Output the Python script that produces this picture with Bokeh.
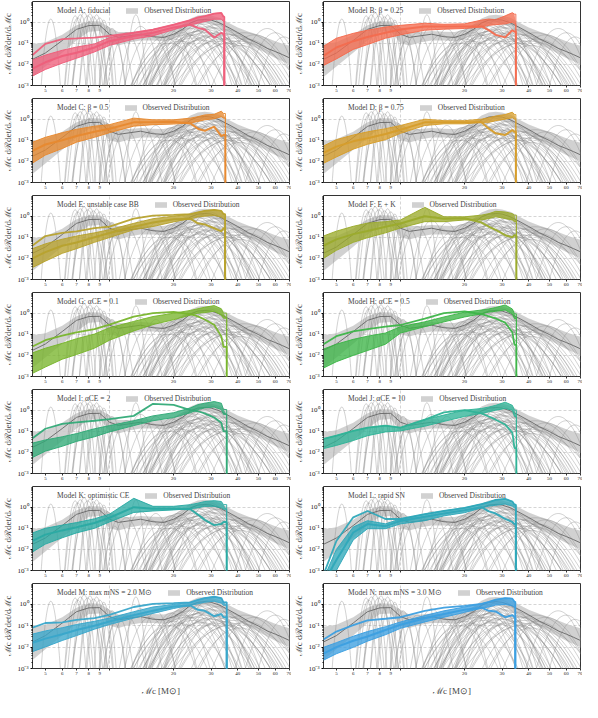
import numpy as np
from bokeh.plotting import figure
from bokeh.layouts import gridplot
from bokeh.models import FixedTicker, Label, Range1d
from bokeh.embed import file_html
from bokeh.resources import INLINE

# ---------------- data (log10 of M_c dR/dM_c) ----------------
X_RANGE = (4.35, 70.0)
Y_RANGE = (1e-3, 10 ** 0.98)

# observed distribution (shared)
obs_m = [4.35, 5, 6, 7, 8, 9, 10, 11, 12.5, 14, 16, 18, 20, 22, 24, 26, 28, 30, 33, 36, 40, 45, 50, 55, 60, 65, 70]
obs_med = [-1.76, -1.46, -0.87, -0.34, -0.16, -0.15, -0.57, -0.72, -0.64, -0.57, -0.69, -0.72, -0.57, -0.34, -0.04,
           0.1, 0.13, 0.1, -0.04, -0.24, -0.49, -0.79, -1.01, -1.24, -1.39, -1.54, -1.69]
obs_hi = [-1.05, -0.95, -0.6, -0.15, 0.05, 0.03, -0.25, -0.47, -0.47, -0.42, -0.45, -0.47, -0.35, -0.12, 0.17,
          0.32, 0.35, 0.32, 0.2, -0.02, -0.25, -0.45, -0.6, -0.75, -0.9, -1.02, -1.12]
obs_lo = [-2.6, -2.1, -1.45, -0.87, -0.45, -0.42, -1.0, -1.1, -0.95, -0.87, -0.87, -0.9, -0.8, -0.57, -0.27,
          -0.1, -0.05, -0.1, -0.25, -0.48, -0.72, -1.05, -1.28, -1.5, -1.7, -1.85, -2.0]

# individual event posteriors: centre, peak (log10), half width at 1e-3 (dex)
ev_mc = [5.3, 6.9, 7.3, 7.6, 7.9, 8.1, 8.4, 8.7, 9.0, 9.4, 9.8, 10.3, 12.0, 13.3, 14.0, 15.5, 16.5, 18.0, 19.5,
         21.0, 22.0, 23.0, 24.0, 25.0, 25.5, 26.0, 26.5, 27.0, 27.5, 28.0, 28.5, 29.0, 29.5, 30.0, 31.0, 32.0,
         33.0, 34.0, 35.0, 37.0, 40.0, 43.0, 48.0, 55.0, 60.0, 66.0,
         19.0, 20.0, 21.5, 23.0, 24.5, 26.0, 27.0, 28.0, 29.0, 30.5, 32.0, 34.0, 36.0, 38.0, 41.0, 44.0,
         11.0, 10.6, 8.0, 7.1]
ev_peak = [0.15, 0.3, 0.35, 0.45, 0.3, 0.4, 0.25, 0.35, 0.2, 0.1, -0.2, -0.3, -0.5, 0.35, -0.2, -0.6, -0.3, -0.7,
           -0.4, -0.3, -0.5, -0.1, -0.3, 0.0, -0.6, -0.2, 0.1, -0.4, -0.1, 0.05, -0.5, -0.2, 0.2, -0.7, -0.3,
           -0.1, -0.5, -0.8, -0.35, -0.6, -0.9, -0.5, -0.6, -0.3, -0.5, -0.7,
           -1.0, -0.8, -0.9, -0.6, -0.75, -0.45, -0.85, -0.35, -0.65, -0.25, -0.9, -0.55, -1.0, -0.75, -1.1, -0.8,
           -0.6, -0.9, 0.0, 0.2]
ev_width = [0.045, 0.05, 0.06, 0.055, 0.07, 0.05, 0.065, 0.05, 0.06, 0.045, 0.04, 0.06, 0.09, 0.05, 0.1, 0.12,
            0.09, 0.15, 0.12, 0.15, 0.2, 0.18, 0.22, 0.2, 0.25, 0.16, 0.2, 0.25, 0.18, 0.22, 0.3, 0.2, 0.17,
            0.28, 0.24, 0.2, 0.3, 0.26, 0.22, 0.28, 0.3, 0.25, 0.2, 0.15, 0.14, 0.12,
            0.18, 0.2, 0.22, 0.25, 0.2, 0.28, 0.24, 0.26, 0.22, 0.3, 0.25, 0.27, 0.22, 0.25, 0.2, 0.22,
            0.07, 0.05, 0.08, 0.06]

# model bundles at these chirp masses
knots = [4.35, 5, 6, 7, 8.5, 10, 13, 16, 20, 24, 26, 28, 31, 33.5, 34.3]

hi_A = [-1.79, -1.56, -1.33, -1.18, -1.03, -0.73, -0.5, -0.35, -0.12, 0.1, 0.23, 0.29, 0.41, 0.44, 0.26]
lo_A = [-2.55, -2.24, -1.94, -1.71, -1.41, -1.1, -0.8, -0.65, -0.35, -0.12, -0.05, 0.03, 0.14, 0.14, 0.03]
up_A = [-1.56, -1.03, -0.8, -0.77, -0.73, -0.65, -0.5, -0.35, -0.12, 0.1, 0.23, 0.29, 0.41, 0.44, 0.26]
dip_A = [-2.2, -1.9, -1.6, -1.45, -1.2, -0.9, -0.65, -0.5, -0.25, -0.12, -0.27, -0.35, -0.73, -0.5, -0.58]

hi_B = [-1.14, -0.76, -0.53, -0.38, -0.23, -0.15, -0.05, -0.1, -0.08, 0.1, 0.15, 0.12, 0.3, 0.45, 0.38]
lo_B = [-2.05, -1.74, -1.29, -1.06, -0.76, -0.6, -0.38, -0.33, -0.3, -0.23, -0.15, -0.12, -0.08, 0.0, -0.08]
dip_B = [-1.6, -1.2, -0.9, -0.7, -0.5, -0.35, -0.2, -0.2, -0.2, -0.2, -0.38, -0.6, -0.72, -0.38, -0.45]

hi_C = [-1.09, -0.86, -0.64, -0.48, -0.33, -0.26, 0.05, -0.03, -0.03, 0.05, 0.12, 0.2, 0.23, 0.38, 0.27]
lo_C = [-2.08, -1.7, -1.39, -1.09, -0.86, -0.64, -0.33, -0.26, -0.23, -0.18, -0.11, -0.03, 0.02, 0.12, 0.05]
dip_C = [-1.5, -1.2, -1.0, -0.8, -0.6, -0.45, -0.15, -0.15, -0.12, -0.2, -0.45, -0.55, -0.35, -0.8, -0.75]

hi_D = [-1.27, -0.97, -0.75, -0.6, -0.45, -0.3, 0.0, -0.07, -0.07, 0.0, 0.07, 0.15, 0.22, 0.33, 0.22]
lo_D = [-2.09, -1.79, -1.42, -1.19, -0.97, -0.67, -0.3, -0.22, -0.22, -0.15, -0.15, -0.07, 0.0, 0.07, 0.0]
dip_D = [-1.6, -1.3, -1.05, -0.9, -0.7, -0.5, -0.15, -0.15, -0.15, -0.15, -0.45, -0.67, -0.75, -0.52, -0.6]

hi_E = [-1.54, -1.31, -1.09, -0.94, -0.79, -0.64, -0.34, -0.12, 0.0, 0.1, 0.18, 0.25, 0.3, 0.25, 0.1]
lo_E = [-2.43, -2.13, -1.76, -1.54, -1.24, -1.01, -0.64, -0.49, -0.27, -0.12, -0.04, 0.0, 0.03, -0.04, -0.12]
up_E = [-1.39, -0.94, -0.79, -0.72, -0.57, -0.49, -0.12, 0.03, 0.06, 0.1, 0.18, 0.25, 0.3, 0.25, 0.1]
dip_E = [-2.0, -1.7, -1.4, -1.25, -1.0, -0.8, -0.5, -0.3, -0.15, -0.12, -0.34, -0.39, -0.57, -0.72, -0.57]

hi_F = [-0.94, -0.71, -0.48, -0.33, -0.26, -0.18, 0.42, -0.03, -0.03, 0.05, 0.12, 0.23, 0.2, 0.12, 0.05]
lo_F = [-2.0, -1.62, -1.24, -1.02, -0.79, -0.56, -0.26, -0.26, -0.18, -0.18, -0.11, -0.03, -0.11, -0.18, -0.26]
dip_F = [-1.4, -1.1, -0.85, -0.7, -0.5, -0.35, 0.0, -0.12, -0.1, -0.3, -0.5, -0.65, -0.9, -1.0, -0.9]

hi_G = [-1.88, -1.66, -1.43, -1.21, -0.99, -0.69, -0.39, -0.16, 0.0, 0.13, 0.21, 0.28, 0.36, 0.21, 0.0]
lo_G = [-2.85, -2.55, -2.18, -1.96, -1.66, -1.28, -0.84, -0.54, -0.31, -0.09, 0.0, 0.03, 0.09, -0.09, -0.24]
up_G = [-1.58, -1.28, -1.06, -0.91, -0.76, -0.54, -0.16, 0.0, 0.06, -0.05, -0.15, -0.3, -0.55, -1.1, -1.6]

hi_H = [-1.7, -1.47, -1.24, -1.09, -0.94, -0.64, -0.41, -0.18, 0.05, 0.15, 0.2, 0.27, 0.39, 0.2, -0.03]
lo_H = [-2.6, -2.3, -2.0, -1.77, -1.47, -0.94, -0.64, -0.41, -0.18, -0.03, 0.05, 0.09, 0.15, -0.03, -0.26]
up_H = [-1.47, -1.09, -0.86, -0.76, -0.64, -0.56, -0.26, 0.0, 0.09, -0.05, -0.15, -0.25, -0.45, -0.9, -1.5]

hi_I = [-1.56, -1.41, -1.26, -1.11, -0.88, -0.73, -0.5, -0.27, -0.12, 0.11, 0.26, 0.33, 0.41, 0.33, 0.03]
lo_I = [-2.24, -1.94, -1.71, -1.48, -1.26, -1.03, -0.73, -0.5, -0.35, -0.12, 0.03, 0.11, 0.15, 0.03, -0.2]
up_I = [-1.33, -0.88, -0.65, -0.58, -0.5, -0.42, -0.27, 0.3, 0.25, 0.0, -0.05, -0.15, -0.35, -0.6, -1.0]

hi_J = [-1.36, -1.21, -0.98, -0.83, -0.73, -0.83, -0.45, -0.23, 0.0, 0.08, 0.15, 0.23, 0.38, 0.23, 0.0]
lo_J = [-1.82, -1.67, -1.44, -1.21, -1.03, -0.98, -0.76, -0.53, -0.3, -0.15, -0.08, 0.0, 0.08, 0.0, -0.3]
up_J = [-1.36, -1.21, -0.98, -0.83, -0.73, -0.83, -0.45, -0.1, 0.0, -0.15, -0.3, -0.45, -0.68, -1.06, -1.8]

hi_K = [-1.22, -1.0, -0.85, -0.73, -0.55, -0.33, 0.42, 0.04, 0.04, 0.12, 0.19, 0.27, 0.31, 0.27, 0.12]
lo_K = [-2.12, -1.75, -1.45, -1.22, -1.0, -0.7, -0.25, -0.18, -0.13, -0.07, -0.03, 0.04, 0.04, -0.03, -0.1]
dip_K = [-1.6, -1.3, -1.1, -0.95, -0.75, -0.5, 0.0, -0.07, -0.07, -0.1, -0.35, -0.6, -0.85, -0.8, -0.7]

hi_L = [-3.4, -2.0, -0.94, -0.64, -0.79, -0.56, -0.33, -0.18, -0.03, 0.15, 0.24, 0.35, 0.39, 0.27, 0.12]
lo_L = [-4.0, -3.0, -1.55, -1.02, -1.02, -0.79, -0.64, -0.41, -0.26, -0.03, 0.05, 0.09, 0.15, 0.05, -0.03]
up_L = [-3.2, -1.6, -0.48, -0.18, -0.56, -0.56, -0.33, -0.18, -0.03, 0.15, 0.24, 0.35, 0.39, 0.27, 0.12]
dip_L = [-3.6, -2.5, -1.2, -0.8, -0.9, -0.65, -0.45, -0.3, -0.15, 0.0, -0.2, -0.3, -0.55, -0.7, -0.8]

hi_M = [-1.39, -1.24, -1.09, -0.94, -0.79, -0.64, -0.34, -0.12, 0.0, 0.1, 0.21, 0.3, 0.36, 0.3, 0.1]
lo_M = [-2.21, -1.99, -1.69, -1.46, -1.16, -0.94, -0.64, -0.42, -0.19, -0.04, 0.03, 0.1, 0.15, 0.06, -0.04]
up_M = [-1.09, -0.87, -0.84, -0.72, -0.64, -0.49, -0.12, 0.03, 0.06, 0.1, 0.21, 0.3, 0.36, 0.3, 0.1]
dip_M = [-1.8, -1.6, -1.4, -1.2, -1.0, -0.8, -0.5, -0.3, -0.1, -0.05, -0.25, -0.3, -0.55, -0.45, -0.6]

hi_N = [-2.01, -1.79, -1.49, -1.27, -1.04, -0.82, -0.52, -0.3, -0.12, 0.03, 0.12, 0.22, 0.3, 0.27, 0.12]
lo_N = [-2.61, -2.31, -2.01, -1.72, -1.42, -1.12, -0.82, -0.6, -0.37, -0.18, -0.12, -0.03, 0.0, -0.07, -0.15]
up_N = [-1.64, -1.27, -0.97, -0.75, -0.67, -0.6, -0.3, -0.15, -0.07, 0.03, 0.12, 0.22, 0.3, 0.27, 0.12]
dip_N = [-2.3, -2.0, -1.7, -1.5, -1.2, -0.95, -0.65, -0.45, -0.25, -0.15, -0.3, -0.33, -0.6, -0.5, -0.6]

model_labels = ["Model A: fiducial", "Model B: β = 0.25", "Model C: β = 0.5", "Model D: β = 0.75",
                "Model E: unstable case BB", "Model F: E + K", "Model G: αCE = 0.1", "Model H: αCE = 0.5",
                "Model I: αCE = 2", "Model J: αCE = 10", "Model K: optimistic CE", "Model L: rapid SN",
                "Model M: max mNS = 2.0 M⊙", "Model N: max mNS = 3.0 M⊙"]
model_colors = ["#ee5f7b", "#f36c4f", "#e7892f", "#d69d2b", "#b7a22e", "#9bab2c", "#78b52c", "#3db548",
                "#31aa77", "#2fb397", "#2aaaa3", "#2fa8b9", "#39a6ca", "#3c9fe0"]
model_end = [34.6, 34.8, 35.0, 34.8, 34.9, 35.0, 35.5, 35.0, 35.5, 35.0, 35.5, 34.8, 35.5, 34.6]
model_hi = [hi_A, hi_B, hi_C, hi_D, hi_E, hi_F, hi_G, hi_H, hi_I, hi_J, hi_K, hi_L, hi_M, hi_N]
model_lo = [lo_A, lo_B, lo_C, lo_D, lo_E, lo_F, lo_G, lo_H, lo_I, lo_J, lo_K, lo_L, lo_M, lo_N]
model_up = [up_A, None, None, None, up_E, None, up_G, up_H, up_I, up_J, None, up_L, up_M, up_N]
model_dip = [dip_A, dip_B, dip_C, dip_D, dip_E, dip_F, None, None, None, None, dip_K, dip_L, dip_M, dip_N]

SERIF = "Liberation Serif"


def pw(v):
    return [10.0 ** a for a in v]


def event_curves():
    xs, ys = [], []
    for c, pk, w in zip(ev_mc, ev_peak, ev_width):
        lm = np.linspace(np.log10(c) - 1.08 * w, np.log10(c) + 1.08 * w, 60)
        ly = pk - (pk + 3.0) * ((lm - np.log10(c)) / w) ** 2
        xs.append(list(10 ** lm))
        ys.append(list(10 ** ly))
    return xs, ys


EV_XS, EV_YS = event_curves()


def make_panel(i, last):
    color = model_colors[i]
    end = model_end[i]
    h = 118 if last else 97
    p = figure(width=291, height=h, x_axis_type="log", y_axis_type="log",
               x_range=Range1d(*X_RANGE), y_range=Range1d(*Y_RANGE),
               output_backend="svg", toolbar_location=None,
               min_border_left=29, min_border_right=2, min_border_top=1,
               min_border_bottom=32 if last else 12)
    p.outline_line_color = "#333333"
    p.outline_line_width = 1
    p.background_fill_color = "white"

    # grid
    p.xgrid.ticker = FixedTicker(ticks=[10])
    p.ygrid.ticker = FixedTicker(ticks=[1e-2, 1e-1, 1])
    for g in (p.xgrid, p.ygrid):
        g.grid_line_color = "#b8b8b8"
        g.grid_line_dash = "3 2"
        g.grid_line_width = 0.6

    # observed distribution
    p.varea(x=obs_m, y1=pw(obs_lo), y2=pw(obs_hi), fill_color="#cccccc", fill_alpha=0.9,
            legend_label="Observed Distribution")
    p.multi_line(EV_XS, EV_YS, line_color="#8a8a8a", line_alpha=0.65, line_width=0.6)
    p.line(obs_m, pw(obs_med), line_color="#666666", line_width=0.9)

    # model bundle
    hi, lo = model_hi[i], model_lo[i]
    px = knots + [end] + knots[::-1]
    py = pw(hi) + [10 ** lo[-1]] + pw(lo[::-1])
    p.patch(px, py, fill_color=color, fill_alpha=0.78, line_alpha=0)
    lx = knots + [end, end]
    for arr, wdt in ((hi, 1.0), (lo, 1.0), (model_up[i], 1.8), (model_dip[i], 2.0)):
        if arr is None:
            continue
        p.line(lx, pw(arr) + [10 ** arr[-1], 1e-4], line_color=color, line_width=wdt, line_alpha=0.95)
    p.line(x=[], y=[], line_color=color, line_width=2.5, legend_label=model_labels[i])

    # legend: model first
    items = p.legend.items
    p.legend.items = [items[1], items[0]]
    p.legend.location = "top_left"
    p.legend.orientation = "horizontal"
    p.legend.label_text_font = SERIF
    p.legend.label_text_font_size = "7.5px"
    p.legend.label_height = 7
    p.legend.glyph_height = 7
    p.legend.glyph_width = 15
    p.legend.label_standoff = 5
    p.legend.spacing = 14
    p.legend.padding = 2
    p.legend.margin = 3
    p.legend.background_fill_alpha = 0
    p.legend.border_line_alpha = 0

    # axes
    xa = p.xaxis[0]
    xa.ticker = FixedTicker(ticks=[5, 6, 7, 8, 9, 10, 20, 30, 40, 50, 60, 70])
    xa.major_label_overrides = {10: ""}
    xa.major_label_text_font = SERIF
    xa.major_label_text_font_size = "5px"
    xa.major_label_standoff = 1
    xa.major_tick_out = 2
    xa.major_tick_in = 0
    xa.minor_tick_out = 0
    xa.axis_line_color = None
    xa.major_tick_line_color = "#333333"
    xa.major_label_text_color = "#222222"
    p.add_layout(Label(x=10, y=10 ** -3.3, text="10", text_font=SERIF, text_font_size="7px",
                       text_align="center", text_baseline="middle", text_color="#222222"))
    if last:
        xa.axis_label = "ℳc [M⊙]"
        xa.axis_label_text_font = SERIF
        xa.axis_label_text_font_style = "normal"
        xa.axis_label_text_font_size = "9px"
        xa.axis_label_standoff = 8

    ya = p.yaxis[0]
    ya.ticker = FixedTicker(ticks=[1e-3, 1e-2, 1e-1, 1],
                            minor_ticks=[k * 10.0 ** e for e in (-3, -2, -1, 0) for k in range(2, 10)])
    ya.major_label_overrides = {0.001: "10⁻³", 0.01: "10⁻²", 0.1: "10⁻¹", 1: "10⁰"}
    ya.major_label_text_font = SERIF
    ya.major_label_text_font_size = "7px"
    ya.major_label_text_color = "#222222"
    ya.major_label_standoff = 2
    ya.major_tick_out = 2
    ya.major_tick_in = 0
    ya.minor_tick_out = 1
    ya.minor_tick_in = 0
    ya.axis_line_color = None
    ya.axis_label = "ℳc dℛdet/dℳc"
    ya.axis_label_text_font = SERIF
    ya.axis_label_text_font_style = "normal"
    ya.axis_label_text_font_size = "9px"
    ya.axis_label_standoff = 1
    return p


panels = [make_panel(i, i >= 12) for i in range(14)]
rows = [[panels[2 * r], panels[2 * r + 1]] for r in range(7)]
grid = gridplot(rows, toolbar_location=None)

open("out.html", "w").write(file_html(grid, INLINE))
